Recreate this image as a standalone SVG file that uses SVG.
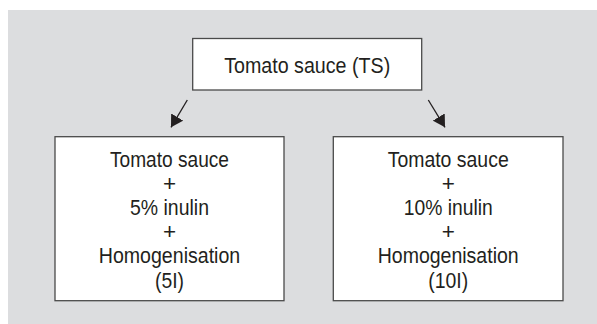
<svg xmlns="http://www.w3.org/2000/svg" width="597" height="324" viewBox="0 0 597 324">
  <style>
    .bg { fill: #dcdddf; }
    .box { fill: #ffffff; stroke: #4a4a4a; stroke-width: 1.3; }
    .t { font-family: "Liberation Sans", Arial, sans-serif; font-size: 22.5px; fill: #231f20; text-anchor: middle; }
    .conn { stroke: #231f20; stroke-width: 1.3; fill: none; marker-end: url(#ah); }
  </style>
  <defs>
    <marker id="ah" viewBox="0 -7 12 14" refX="12" refY="0" markerWidth="12" markerHeight="14" markerUnits="userSpaceOnUse" orient="auto">
      <path d="M0,-7 L12,0 L0,7 z" fill="#231f20"/>
    </marker>
  </defs>
  <rect class="bg" x="8" y="10" width="589" height="314"/>

  <g id="node-ts">
    <rect class="box" x="192.7" y="38.5" width="229" height="51.5"/>
    <text class="t" x="307.2" y="73" textLength="166" lengthAdjust="spacingAndGlyphs">Tomato sauce (TS)</text>
  </g>

  <g id="node-5i">
    <rect class="box" x="55" y="136.7" width="229" height="164"/>
    <text class="t" x="169.5" y="167.4" textLength="119" lengthAdjust="spacingAndGlyphs">Tomato sauce</text>
    <text class="t" x="169.5" y="191.2">+</text>
    <text class="t" x="169.5" y="215.2" textLength="79" lengthAdjust="spacingAndGlyphs">5% inulin</text>
    <text class="t" x="169.5" y="239">+</text>
    <text class="t" x="169.5" y="263.2" textLength="141.5" lengthAdjust="spacingAndGlyphs">Homogenisation</text>
    <text class="t" x="169.5" y="287.6" textLength="29" lengthAdjust="spacingAndGlyphs">(5I)</text>
  </g>

  <g id="node-10i">
    <rect class="box" x="333.3" y="136.7" width="229.7" height="164"/>
    <text class="t" x="448.2" y="167.4" textLength="121" lengthAdjust="spacingAndGlyphs">Tomato sauce</text>
    <text class="t" x="448.2" y="191.2">+</text>
    <text class="t" x="448.2" y="215.2" textLength="89" lengthAdjust="spacingAndGlyphs">10% inulin</text>
    <text class="t" x="448.2" y="239">+</text>
    <text class="t" x="448.2" y="263.2" textLength="141" lengthAdjust="spacingAndGlyphs">Homogenisation</text>
    <text class="t" x="448.2" y="287.6" textLength="40" lengthAdjust="spacingAndGlyphs">(10I)</text>
  </g>

  <g id="connectors">
    <line class="conn" x1="187.3" y1="100" x2="171" y2="127.3"/>
    <line class="conn" x1="428.3" y1="100" x2="445" y2="127.3"/>
  </g>
</svg>
